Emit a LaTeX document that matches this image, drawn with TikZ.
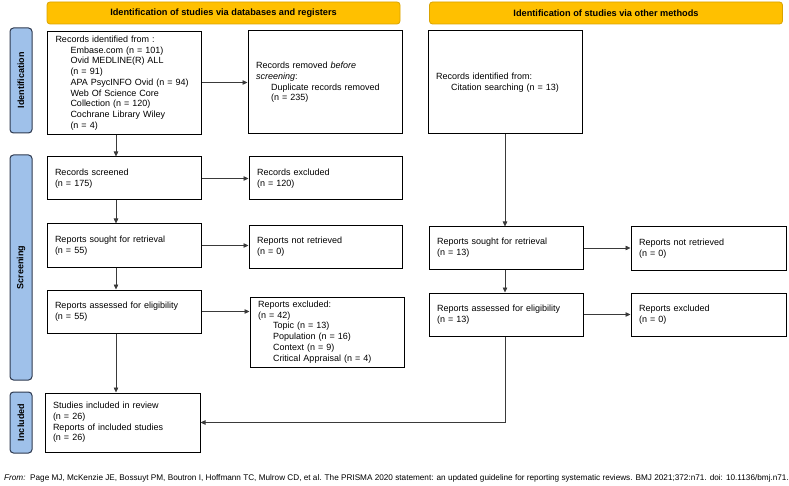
\documentclass[tikz,border=0pt]{standalone}
\usepackage{fontspec}
\setmainfont{Liberation Sans}
\usetikzlibrary{arrows.meta,calc}
\definecolor{banfill}{HTML}{FFC000}
\definecolor{banedge}{HTML}{D9A300}
\definecolor{sidefill}{HTML}{9FC1EA}
\definecolor{sideedge}{HTML}{2E3A50}
\definecolor{arrcol}{HTML}{3A3A3A}
\newcommand{\ind}{\hspace*{15pt}}
\tikzset{
  box/.style={draw=black, line width=1pt, inner xsep=8pt, inner ysep=2pt, align=left,
    font=\fontsize{9}{10.7}\selectfont, text width=#1-16pt},
  box/.default=154pt,
  banner/.style={draw=banedge, fill=banfill, line width=0.8pt, rounded corners=3pt,
    minimum width=353pt, minimum height=22pt, font=\fontsize{9.2}{10}\selectfont\bfseries, inner sep=0pt},
  side/.style={draw=sideedge, fill=sidefill, line width=1pt, rounded corners=3.5pt,
    minimum height=22pt, rotate=90, font=\fontsize{9}{10}\selectfont\bfseries, inner sep=0pt},
  arr/.style={draw=arrcol, line width=0.7pt, -{Triangle[length=5pt,width=4.5pt]}},
}
\begin{document}
\begin{tikzpicture}[x=1pt,y=-1pt]
\useasboundingbox (0,0) rectangle (789,486);
% banners
\node[banner] (b1) at (223.5,13) {Identification of studies via databases and registers};
\node[banner] (b2) at (606,13) {Identification of studies via other methods};
% side labels
\node[side, minimum width=105pt] (s1) at (21,80.5) {Identification};
\node[side, minimum width=225pt] (s2) at (21,267.5) {Screening};
\node[side, minimum width=61pt] (s3) at (21,422.5) {Included};
% left column
\node[box, minimum height=103pt, anchor=north west] (id) at (47,31) {Records identified from :\\
\ind Embase.com (n = 101)\\
\ind Ovid MEDLINE(R) ALL\\
\ind (n = 91)\\
\ind APA PsycINFO Ovid (n = 94)\\
\ind Web Of Science Core\\
\ind Collection (n = 120)\\
\ind Cochrane Library Wiley\\
\ind (n = 4)};
\node[box, minimum height=103pt] (rem) at (325,82.5) {Records removed \textit{before}\\
\textit{screening}:\\
\ind Duplicate records removed\\
\ind (n = 235)};
\node[box, minimum height=43pt] (scr) at (124,178.5) {Records screened\\(n = 175)};
\node[box=153pt, minimum height=43pt] (exc) at (325.5,178.5) {Records excluded\\(n = 120)};
\node[box, minimum height=43pt] (sou) at (124,245.5) {Reports sought for retrieval\\(n = 55)};
\node[box=153pt, minimum height=42pt] (nr) at (325.5,247) {Reports not retrieved\\(n = 0)};
\node[box, minimum height=43pt] (ass) at (124,311.5) {Reports assessed for eligibility\\(n = 55)};
\node[box, minimum height=70pt] (rex) at (327,332) {Reports excluded:\\
(n = 42)\\
\ind Topic (n = 13)\\
\ind Population (n = 16)\\
\ind Context (n = 9)\\
\ind Critical Appraisal (n = 4)};
\node[box=155pt, minimum height=59pt] (inc) at (122.5,422.5) {Studies included in review\\
(n = 26)\\
Reports of included studies\\
(n = 26)};
% right column
\node[box, minimum height=103pt] (oth) at (505,82.5) {Records identified from:\\
\ind Citation searching (n = 13)};
\node[box, minimum height=42pt] (osou) at (506,248) {Reports sought for retrieval\\(n = 13)};
\node[box=155pt, minimum height=43pt] (onr) at (708.5,248.5) {Reports not retrieved\\(n = 0)};
\node[box, minimum height=43pt] (oass) at (506,314.5) {Reports assessed for eligibility\\(n = 13)};
\node[box=155pt, minimum height=43pt] (oex) at (708.5,314.5) {Reports excluded\\(n = 0)};
% footer
\node[anchor=west, inner sep=0pt, font=\fontsize{8.2}{9}\selectfont] (foot) at (4,478)
 {\textit{From:}\ \ Page MJ, McKenzie JE, Bossuyt PM, Boutron I, Hoffmann TC, Mulrow CD, et al. The PRISMA 2020 statement: an updated guideline for reporting systematic reviews. BMJ 2021;372:n71. doi: 10.1136/bmj.n71.};
% connectors
\coordinate (lx) at (116,0);
\coordinate (rx) at (505,0);
\draw[arr] (id.south -| lx) -- (scr.north -| lx);
\draw[arr] (scr.south -| lx) -- (sou.north -| lx);
\draw[arr] (sou.south -| lx) -- (ass.north -| lx);
\draw[arr] (ass.south -| lx) -- (inc.north -| lx);
\draw[arr] (id.east |- rem.west) -- (rem.west);
\draw[arr] (scr.east) -- (exc.west |- scr.east);
\draw[arr] (sou.east) -- (nr.west |- sou.east);
\draw[arr] (ass.east) -- (rex.west |- ass.east);
\draw[arr] (oth.south -| rx) -- (osou.north -| rx);
\draw[arr] (osou.south -| rx) -- (oass.north -| rx);
\draw[arr] (osou.east) -- (onr.west |- osou.east);
\draw[arr] (oass.east) -- (oex.west |- oass.east);
\draw[arr] (oass.south -| rx) |- (inc.east);
\end{tikzpicture}
\end{document}
